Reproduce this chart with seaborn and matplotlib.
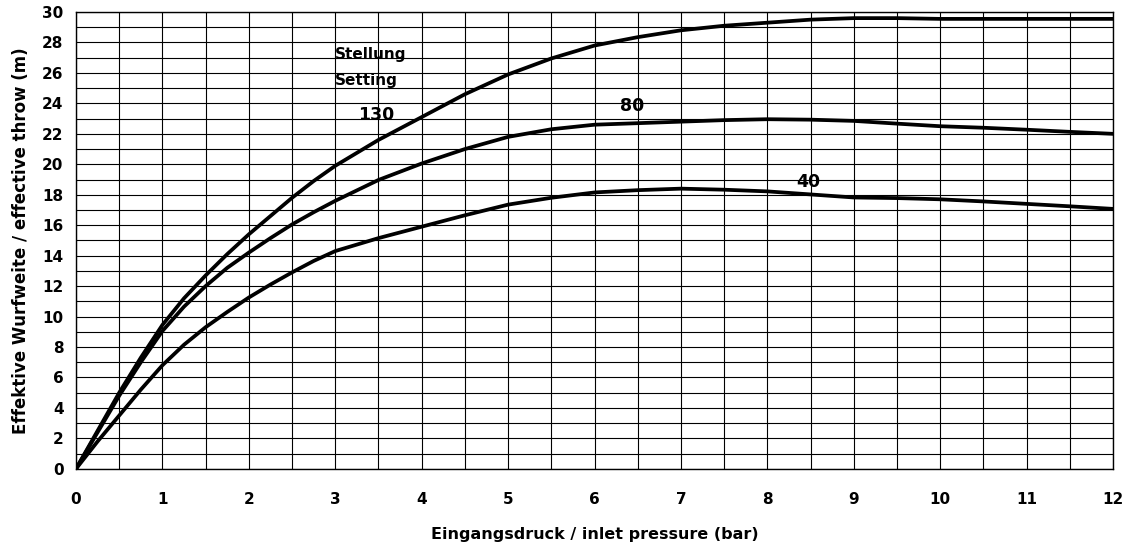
import numpy as np
import pandas as pd
import seaborn as sns
import matplotlib.pyplot as plt

# inlet pressure (bar)
pressure = [0, 0.25, 0.5, 0.75, 1, 1.25, 1.5, 1.75, 2, 2.25, 2.5, 2.75, 3,
            3.5, 4, 4.5, 5, 5.5, 6, 6.5, 7, 7.5, 8, 8.5, 9, 9.5, 10, 10.5,
            11, 11.5, 12]

# effective throw (m) per setting
throw130 = [0, 2.5, 5.0, 7.3, 9.45, 11.2, 12.7, 14.1, 15.4, 16.6, 17.8, 18.9, 19.9,
            21.6, 23.1, 24.6, 25.9, 26.95, 27.8, 28.35, 28.8, 29.1, 29.3, 29.5,
            29.6, 29.6, 29.55, 29.55, 29.55, 29.55, 29.55]
throw80 = [0, 2.4, 4.8, 7.0, 9.05, 10.65, 12.0, 13.2, 14.2, 15.15, 16.05, 16.85, 17.6,
           18.97, 20.05, 21.0, 21.8, 22.3, 22.6, 22.7, 22.8, 22.9, 22.96, 22.93,
           22.85, 22.67, 22.5, 22.4, 22.27, 22.13, 22.0]
throw40 = [0, 1.8, 3.5, 5.2, 6.8, 8.15, 9.3, 10.3, 11.25, 12.1, 12.9, 13.65, 14.3,
           15.15, 15.9, 16.65, 17.35, 17.8, 18.15, 18.3, 18.4, 18.33, 18.22, 18.02,
           17.82, 17.78, 17.7, 17.56, 17.4, 17.24, 17.07]

settings = ["130", "80", "40"]
xticks = list(range(0, 13))
yticks = list(range(0, 31, 2))

df = pd.concat([
    pd.DataFrame({"p": pressure, "w": throw130, "setting": "130"}),
    pd.DataFrame({"p": pressure, "w": throw80, "setting": "80"}),
    pd.DataFrame({"p": pressure, "w": throw40, "setting": "40"}),
])

sns.set_theme(style="white")
plt.rcParams["font.family"] = ["DejaVu Sans"]
plt.rcParams["font.weight"] = "bold"
plt.rcParams["text.color"] = "black"
plt.rcParams["axes.labelcolor"] = "black"
plt.rcParams["xtick.color"] = "black"
plt.rcParams["ytick.color"] = "black"

fig = plt.figure(figsize=(11.28, 5.47), dpi=100)
ax = fig.add_axes([0.0674, 0.143, 0.9193, 0.835])

sns.lineplot(data=df, x="p", y="w", hue="setting", hue_order=settings,
             palette=["black"] * 3, legend=False, linewidth=2.7, ax=ax, zorder=3)
for ln in ax.lines:
    ln.set_solid_joinstyle("round")

ax.set_xlim(0, 12)
ax.set_ylim(0, 30)
ax.set_xticks(xticks)
ax.set_yticks(yticks)
ax.set_xticks(np.arange(0, 12.5, 0.5), minor=True)
ax.set_yticks(np.arange(0, 31, 1), minor=True)
ax.grid(which="both", color="black", linewidth=0.8)
ax.set_axisbelow(True)
ax.tick_params(which="minor", length=0)
ax.tick_params(axis="x", which="major", length=3, width=0.8, colors="black",
               direction="out", pad=14, labelsize=11)
ax.tick_params(axis="y", which="major", length=3, width=0.8, colors="black",
               direction="out", pad=6, labelsize=11)
ax.set_xticklabels([str(t) for t in xticks], fontweight="bold")
ax.set_yticklabels([str(t) for t in yticks], fontweight="bold")
for s in ax.spines.values():
    s.set_color("black")
    s.set_linewidth(1.0)

ax.set_xlabel("Eingangsdruck / inlet pressure (bar)", fontsize=11.5,
              fontweight="bold", labelpad=14, color="black")
ax.set_ylabel("Effektive Wurfweite / effective throw (m)", fontsize=12,
              fontweight="bold", labelpad=9, color="black")

ax.text(3.0, 27.2, "Stellung", fontsize=11, fontweight="bold", va="center", color="black")
ax.text(3.0, 25.5, "Setting", fontsize=11, fontweight="bold", va="center", color="black")
ax.text(3.47, 23.25, "130", fontsize=12.5, fontweight="bold", ha="center", va="center", color="black")
ax.text(6.43, 23.8, "80", fontsize=12.5, fontweight="bold", ha="center", va="center", color="black")
ax.text(8.47, 18.85, "40", fontsize=12.5, fontweight="bold", ha="center", va="center", color="black")

fig.savefig("out.png", dpi=100, facecolor="white")
